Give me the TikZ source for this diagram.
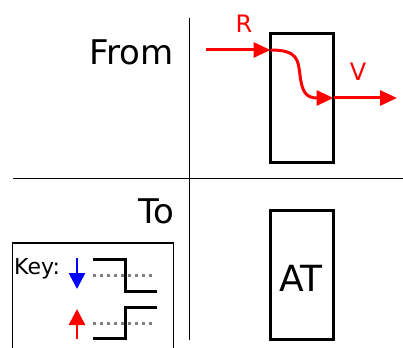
\documentclass[tikz,border=0pt]{standalone}
\usepackage{fontspec}
\setmainfont{DejaVu Sans}
\usetikzlibrary{arrows.meta, positioning, calc}

\begin{document}
\begin{tikzpicture}[x=1pt, y=-1pt, >=Triangle,
		flow/.style={red, line width=3pt, -{Triangle[length=17pt, width=15pt]}},
		keyarrow/.style={line width=2.7pt, -{Triangle[length=16pt, width=16pt]}},
		block/.style={draw, line width=3pt, inner sep=0pt, outer sep=0pt, minimum width=63pt, minimum height=129pt},
		stepline/.style={line width=3pt},
		level/.style={gray, line width=3pt, dash pattern=on 3pt off 4pt},
		heading/.style={font=\fontsize{34}{38}\selectfont, anchor=base east, inner sep=0pt}]
	\useasboundingbox (0,0) rectangle (403,347);
	\clip (0,0) rectangle (403,347);
	
	% the two axes
	\draw[line width=1.3pt] (189.5,18) -- (189.5,340);
	\draw[line width=1.3pt] (13,178.5) -- (403,178.5);
	
	\node[heading] (fromLabel) at (174,65) {From};
	\node[heading] (toLabel) at (174,223) {To};
	
	% From: the block with R in and V out
	\node[block] (fromBox) at (302,98.5) {};
	\coordinate (rStart) at (206,50);
	\coordinate (rIn) at (fromBox.west |- rStart);
	\coordinate (vOut) at (fromBox.east |- 0,98);
	\coordinate (vEnd) at (397,98);
	\draw[flow] (rStart) -- (rIn);
	\draw[flow] (rIn) .. controls (298,50) and (298,60) .. (300,75)
		.. controls (302,92) and (306,98) .. (vOut);
	\draw[flow] (vOut) -- (vEnd);
	\node[red, font=\fontsize{24}{28}\selectfont, anchor=base] (rLabel) at (244,33) {R};
	\node[red, font=\fontsize{24}{28}\selectfont, anchor=base] (vLabel) at (358,81) {V};
	
	% To: the AT block
	\node[block] (toBox) at (301.5,274.5) {};
	\node[font=\fontsize{36}{40}\selectfont, anchor=base] (atLabel) at (301,291) {AT};
	
	% Key
	\draw[line width=1.2pt] (12.5,360) |- (173.5,243) -- (173.5,360);
	\node[font=\fontsize{22}{26}\selectfont, anchor=base west, inner sep=0pt] (keyLabel) at (14,274) {Key:};
	\coordinate (downTop) at (77,258);
	\coordinate (downTip) at (77,289);
	\coordinate (upBottom) at (77,339);
	\coordinate (upTip) at (77,309);
	\draw[keyarrow, blue] (downTop) -- (downTip);
	\draw[keyarrow, red] (upBottom) -- (upTip);
	\draw[level] (93,275) -- (155,275);
	\draw[level] (93,323) -- (155,323);
	\draw[stepline] (93,259) -- (125,259) -- (125,291) -- (157,291);
	\draw[stepline] (93,338) -- (125,338) -- (125,307) -- (157,307);
\end{tikzpicture}
\end{document}
